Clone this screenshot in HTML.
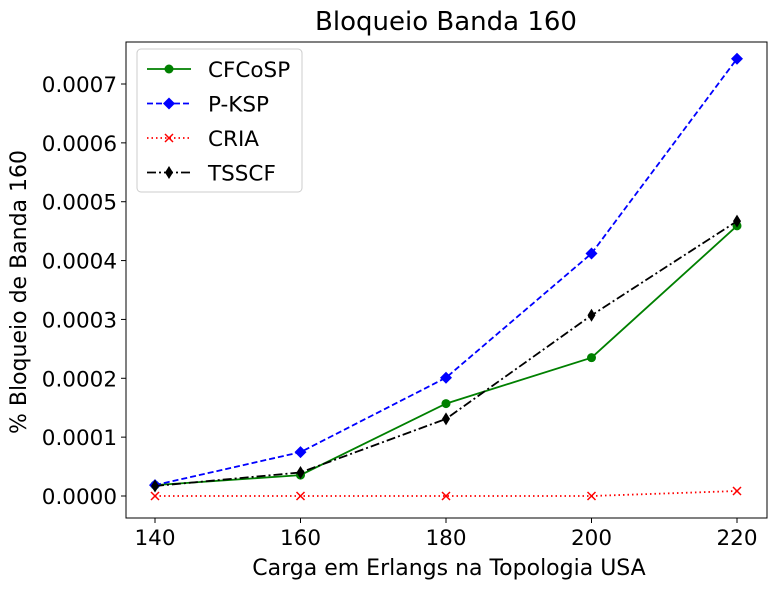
<!DOCTYPE html>
<html><head><meta charset="utf-8"><style>
body{margin:0;background:#fff;font-family:"Liberation Sans","DejaVu Sans",sans-serif;}
svg text{font-family:"DejaVu Sans","Liberation Sans",sans-serif;}
</style></head><body>
<svg id="chart" width="775" height="589" xmlns="http://www.w3.org/2000/svg">
<rect width="775" height="589" fill="#fff"/>
<text x="446" y="30" font-size="26" text-anchor="middle">Bloqueio Banda 160</text>
<text x="449" y="575" font-size="22" text-anchor="middle">Carga em Erlangs na Topologia USA</text>
<text transform="translate(26,292) rotate(-90)" font-size="22" text-anchor="middle">% Bloqueio de Banda 160</text>
<g id="axes"></g><g id="series"></g>
<rect x="126" y="42" width="641" height="476" fill="none" stroke="#000" stroke-width="1"/>
<g id="legend">
<rect x="137" y="49" width="165" height="143" rx="4" fill="#fff" stroke="#ccc"/>
</g>
</svg>
<script>
const categories=[140,160,180,200,220];
const cfcosp=[0.0000185,0.0000355,0.000157,0.000235,0.000459];
const pksp=[0.0000185,0.0000745,0.000201,0.000412,0.000743];
const cria=[0,0,0,0,0.0000085];
const tsscf=[0.000017,0.00004,0.000131,0.000307,0.000467];
const yTicks=[0,0.0001,0.0002,0.0003,0.0004,0.0005,0.0006,0.0007];
const yTickLabels=["0.0000","0.0001","0.0002","0.0003","0.0004","0.0005","0.0006","0.0007"];
const NS="http://www.w3.org/2000/svg";
const xs=v=>155+(v-140)*(737-155)/80;
const ys=v=>496-v*(496-84)/0.0007;
function mk(t,a,p){const e=document.createElementNS(NS,t);for(const k in a)e.setAttribute(k,a[k]);p.appendChild(e);return e;}
const ax=document.getElementById('axes');
categories.forEach(c=>{
 const l=mk('line',{x1:xs(c),x2:xs(c),y1:518,y2:523,stroke:'#000'},ax);
 
 
 const t=mk('text',{x:xs(c),y:545,'font-size':21.5,'text-anchor':'middle'},ax);t.textContent=c;
 
 
});
yTicks.forEach((v,i)=>{
 const l=mk('line',{x1:121,x2:126,y1:ys(v),y2:ys(v),stroke:'#000'},ax);
 
 
 const t=mk('text',{x:117,y:ys(v)+8,'font-size':21.5,'text-anchor':'end'},ax);t.textContent=yTickLabels[i];
 
 
});
function marker(type,x,y,color,g){
 if(type==='o'){return mk('circle',{cx:x,cy:y,r:4.5,fill:color},g);}
 if(type==='D'){return mk('polygon',{points:`${x},${y-6} ${x+6},${y} ${x},${y+6} ${x-6},${y}`,fill:color},g);}
 if(type==='d'){return mk('polygon',{points:`${x},${y-6.5} ${x+4},${y} ${x},${y+6.5} ${x-4},${y}`,fill:color},g);}
 if(type==='x'){return mk('path',{d:`M${x-4},${y-4}L${x+4},${y+4}M${x-4},${y+4}L${x+4},${y-4}`,stroke:color,'stroke-width':1.5},g);}
}
const series=[
 {name:'CFCoSP',vals:cfcosp,color:'#008000',dash:'',m:'o'},
 {name:'P-KSP',vals:pksp,color:'#0000ff',dash:'6,3',m:'D'},
 {name:'CRIA',vals:cria,color:'#ff0000',dash:'1.5,3',m:'x'},
 {name:'TSSCF',vals:tsscf,color:'#000',dash:'9,3,2,3',m:'d'}
];
const sg=document.getElementById('series');
const lg=document.getElementById('legend');
series.forEach((s,i)=>{
 const g=mk('g',{},sg);
 
 
 const pts=s.vals.map((v,j)=>xs(categories[j])+','+ys(v)).join(' ');
 mk('polyline',{points:pts,fill:'none',stroke:s.color,'stroke-width':1.8,'stroke-dasharray':s.dash},g);
 s.vals.forEach((v,j)=>{const m=marker(s.m,xs(categories[j]),ys(v),s.color,g);
  
  });
 const ly=69+i*34.5;
 const le=mk('g',{},lg);
 
 
 mk('line',{x1:147,x2:191,y1:ly,y2:ly,stroke:s.color,'stroke-width':1.8,'stroke-dasharray':s.dash},le);
 marker(s.m,169,ly,s.color,le);
 const t=mk('text',{x:208,y:ly+8,'font-size':21.5},le);t.textContent=s.name;
});
</script>
</body></html>
